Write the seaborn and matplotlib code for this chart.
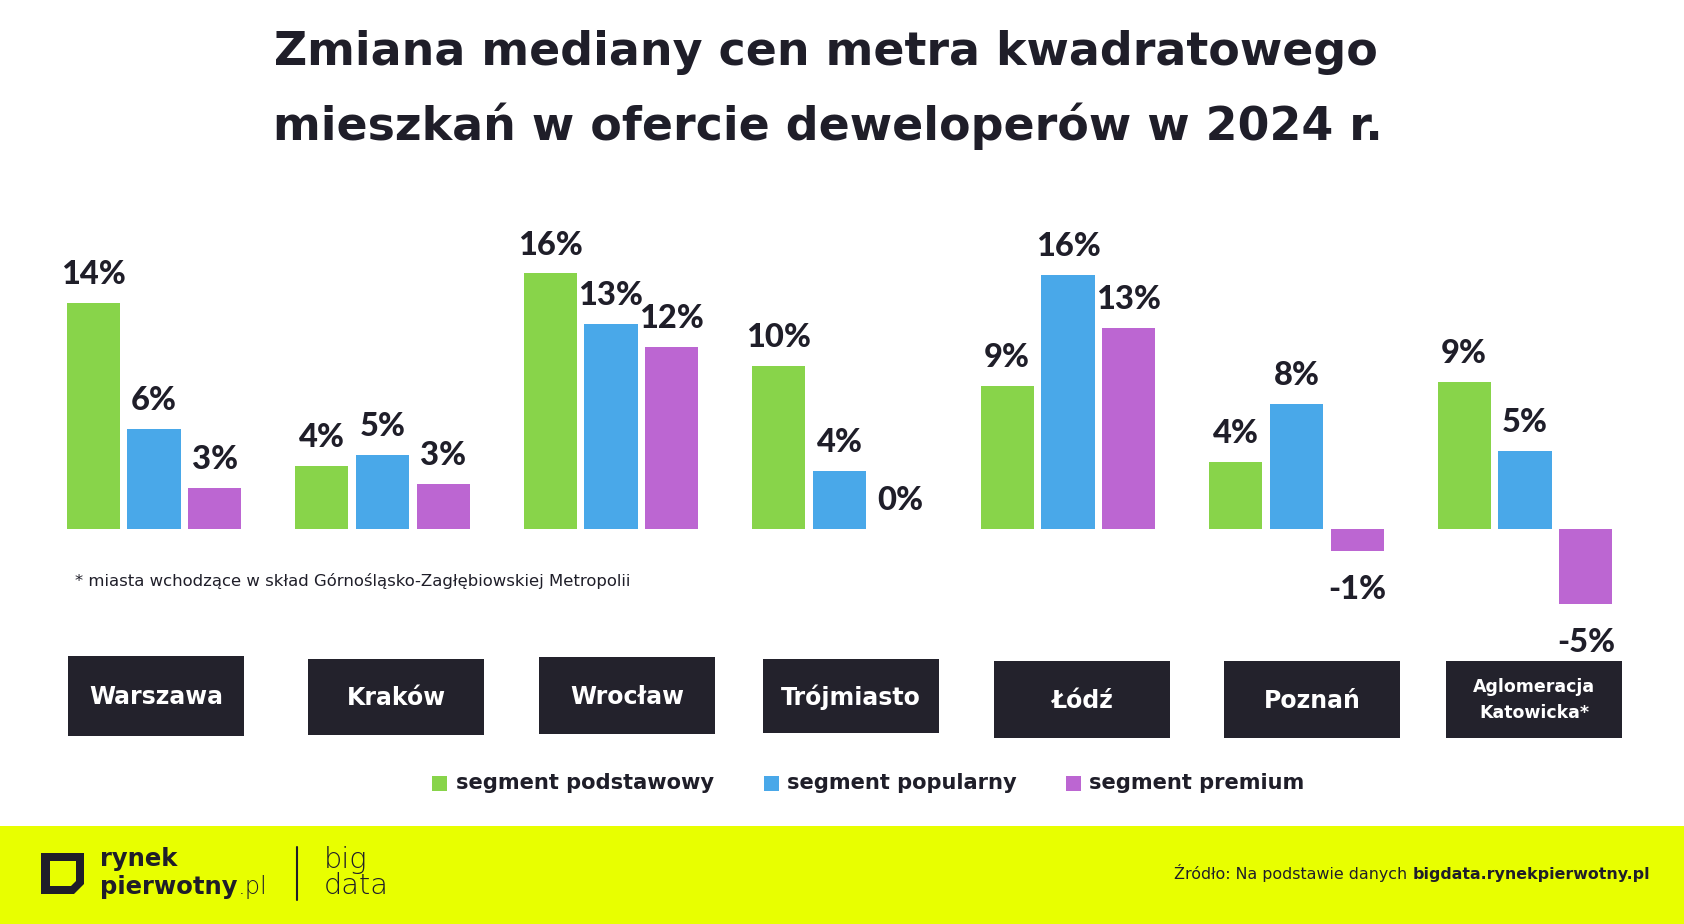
import numpy as np
import pandas as pd
import matplotlib
matplotlib.use("Agg")
import matplotlib.pyplot as plt
import seaborn as sns
from matplotlib.patches import Rectangle, PathPatch
from matplotlib.path import Path

# ---------------- data ----------------
cities = ["Warszawa", "Kraków", "Wrocław", "Trójmiasto", "Łódź", "Poznań", "Aglomeracja\nKatowicka*"]
segments = ["segment podstawowy", "segment popularny", "segment premium"]
podstawowy = [14.4, 4.0, 16.3, 10.4, 9.1, 4.3, 9.4]
popularny = [6.4, 4.7, 13.1, 3.7, 16.2, 8.0, 5.0]
premium = [2.6, 2.9, 11.6, 0.0, 12.8, -1.4, -4.8]
colors = ["#88D44A", "#49A8E9", "#BC66D2"]

title_lines = ["Zmiana mediany cen metra kwadratowego",
               "mieszkań w ofercie deweloperów w 2024 r."]
footnote = "* miasta wchodzące w skład Górnośląsko-Zagłębiowskiej Metropolii"
source_regular = "Źródło: Na podstawie danych "
source_bold = "bigdata.rynekpierwotny.pl"

# ---------------- layout constants (pixels) ----------------
W, H = 1684, 924
DARK = "#1F1E29"
BOX = "#23222C"
YELLOW = "#E8FF00"
BASE_PX, PX_PER_PCT = 529, 15.68
GROUP0_PX, GROUP_STEP_PX = 154, 228.5
box_dx = [2, 13.5, 16, 11.5, 14, 15.5, 9]
box_top = [656, 659, 657, 659, 661, 661, 661]
box_bot = [736, 735, 734, 733, 738, 738, 738]
BOX_W = 176

sns.set_style("white")
plt.rcParams["font.family"] = ["DejaVu Sans"]

fig = plt.figure(figsize=(W / 100, H / 100), dpi=100)
fig.patch.set_facecolor("white")


def fx(x):
    return x / W


def fy(y):
    return 1 - y / H


renderer = fig.canvas.get_renderer()


def fit(texts, target_w):
    total = sum(t.get_window_extent(renderer).width for t in texts)
    for t in texts:
        t.set_fontsize(t.get_fontsize() * target_w / total)


# ---------------- bars ----------------
series = {segments[0]: podstawowy, segments[1]: popularny, segments[2]: premium}
df = pd.DataFrame([(c, s, v) for s, vals in series.items() for c, v in zip(cities, vals)],
                  columns=["city", "segment", "value"])

ax = fig.add_axes([0, 0, 1, 1])
sns.barplot(data=df, x="city", y="value", hue="segment", order=cities, hue_order=segments,
            palette=colors, saturation=1, width=0.8, gap=0.13, legend=False,
            errorbar=None, ax=ax, linewidth=0)
ax.set_xlim(-GROUP0_PX / GROUP_STEP_PX, (W - GROUP0_PX) / GROUP_STEP_PX)
ax.set_ylim((BASE_PX - H) / PX_PER_PCT, BASE_PX / PX_PER_PCT)
ax.set_axis_off()
ax.patch.set_alpha(0)

for cont, vals in zip(ax.containers, [podstawowy, popularny, premium]):
    pos_labels = [f"{round(v)}%" if v >= 0 else "" for v in vals]
    neg_labels = [f"{round(v)}%" if v < 0 else "" for v in vals]
    ax.bar_label(cont, labels=pos_labels, padding=10, fontsize=23.5, color=DARK,
                 fontfamily="Lato", fontweight="black")
    ax.bar_label(cont, labels=neg_labels, padding=17, fontsize=23.5, color=DARK,
                 fontfamily="Lato", fontweight="black")

# ---------------- title ----------------
t1 = fig.text(fx(826), fy(65), title_lines[0], ha="center", va="baseline",
              fontsize=30, fontweight="bold", color=DARK)
t2 = fig.text(fx(828), fy(140), title_lines[1], ha="center", va="baseline",
              fontsize=30, fontweight="bold", color=DARK)
fit([t1], 1102)
t2.set_fontsize(t1.get_fontsize())

# ---------------- footnote ----------------
fn = fig.text(fx(75), fy(586), footnote, ha="left", va="baseline", fontsize=12, color=DARK)
fit([fn], 553)

# ---------------- city boxes ----------------
for i, city in enumerate(cities):
    cx = GROUP0_PX + i * GROUP_STEP_PX + box_dx[i]
    fig.add_artist(Rectangle((fx(cx - BOX_W / 2), fy(box_bot[i])), BOX_W / W,
                             (box_bot[i] - box_top[i]) / H, transform=fig.transFigure,
                             facecolor=BOX, edgecolor="none"))
    cy = (box_top[i] + box_bot[i]) / 2
    lines = city.split("\n")
    if len(lines) == 1:
        fig.text(fx(cx), fy(cy + 1), city, ha="center", va="center", color="white",
                 fontsize=17, fontweight="bold")
    else:
        for k, ln in enumerate(lines):
            fig.text(fx(cx), fy(cy - 13 + 27 * k), ln, ha="center", va="center",
                     color="white", fontsize=12.5, fontweight="bold")

# ---------------- legend ----------------
sq_left = [432, 764, 1065.5]
txt_left = [456, 787, 1089]
leg_texts = []
for k, seg in enumerate(segments):
    fig.add_artist(Rectangle((fx(sq_left[k]), fy(791)), 15 / W, 15 / H,
                             transform=fig.transFigure, facecolor=colors[k], edgecolor="none"))
    leg_texts.append(fig.text(fx(txt_left[k]), fy(783), seg, ha="left", va="center",
                              fontsize=15, fontweight="bold", color=DARK))
fit([leg_texts[0]], 259)
for t in leg_texts[1:]:
    t.set_fontsize(leg_texts[0].get_fontsize())

# ---------------- footer ----------------
fig.add_artist(Rectangle((0, 0), 1, (H - 826) / H, transform=fig.transFigure,
                         facecolor=YELLOW, edgecolor="none", zorder=0))

# logo icon
outer = [(41, 853), (84, 853), (84, 884), (74, 894), (41, 894), (41, 853)]
inner = [(50, 861), (50, 886), (71, 886), (76, 881), (76, 861), (50, 861)]
verts = [(fx(x), fy(y)) for x, y in outer] + [(fx(x), fy(y)) for x, y in inner]
codes = ([Path.MOVETO] + [Path.LINETO] * 4 + [Path.CLOSEPOLY]) * 2
fig.add_artist(PathPatch(Path(verts, codes), transform=fig.transFigure,
                         facecolor=DARK, edgecolor="none"))

r1 = fig.text(fx(100), fy(866), "rynek", ha="left", va="baseline", fontsize=17.5,
              fontweight="bold", color=DARK)
r2 = fig.text(fx(100), fy(894), "pierwotny", ha="left", va="baseline", fontsize=17.5,
              fontweight="bold", color=DARK)
ax.annotate(".pl", xy=(1, 0), xycoords=r2, ha="left", va="bottom",
            fontsize=r2.get_fontsize(), fontweight="light", color=DARK)

fig.add_artist(plt.Line2D([fx(297), fx(297)], [fy(847), fy(900)], transform=fig.transFigure,
                          color=DARK, linewidth=1.5))
b1 = fig.text(fx(324), fy(868), "big", ha="left", va="baseline", fontsize=20,
              fontweight="light", color=DARK)
b2 = fig.text(fx(324), fy(894), "data", ha="left", va="baseline", fontsize=20,
              fontweight="light", color=DARK)
fit([b2], 65)
b1.set_fontsize(b2.get_fontsize())

# source
sb = fig.text(fx(1650), fy(879), source_bold, ha="right", va="baseline", fontsize=12,
              fontweight="bold", color=DARK)
sr = fig.text(fx(1100), fy(879), source_regular, ha="left", va="baseline", fontsize=12,
              color=DARK)
fit([sb, sr], 473)
sr.remove()
ax.annotate(source_regular, xy=(0, 0), xycoords=sb, ha="right", va="bottom",
            fontsize=sb.get_fontsize(), color=DARK)

fig.savefig("out.png", dpi=100, facecolor="white")
